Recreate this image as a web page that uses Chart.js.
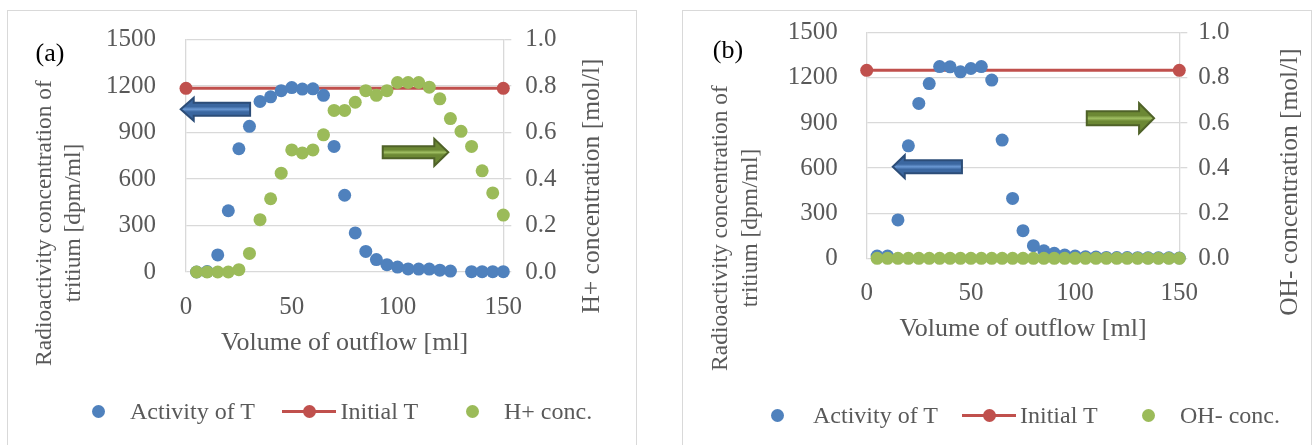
<!DOCTYPE html>
<html>
<head>
<meta charset="utf-8">
<script src="https://cdn.jsdelivr.net/npm/chart.js@4.4.1/dist/chart.umd.min.js"></script>
<style>
  body { margin: 0; width: 1314px; height: 445px; overflow: hidden; position: relative; background: #fff; font-family: "Liberation Serif", "Times New Roman", serif; }
  .panel { position: absolute; top: 10px; height: 445px; border: 1px solid #d9d9d9; box-sizing: border-box; background: #fff; }
  #panelA { left: 7px; width: 630px; }
  #panelB { left: 682px; width: 630px; }
  .panel canvas { position: absolute; left: 0; top: 0; }
  .legend { position: absolute; left: 0; top: 0; width: 100%; height: 100%; pointer-events: none; color: #595959; font-size: 24px; }
  .legend span { position: absolute; white-space: nowrap; line-height: 28px; }
  .dot { width: 13px; height: 13px; border-radius: 50%; }
  .bar { height: 3px; }
</style>
</head>
<body>
<div class="panel" id="panelA"><canvas id="chartA" width="628" height="434"></canvas><div class="legend" id="legendA"></div></div>
<div class="panel" id="panelB"><canvas id="chartB" width="628" height="434"></canvas><div class="legend" id="legendB"></div></div>
<script>
// volume of outflow [ml] for each fraction
const volume = [5, 10, 15, 20, 25, 30, 35, 40, 45, 50, 55, 60, 65, 70, 75, 80, 85, 90, 95, 100, 105, 110, 115, 120, 125, 130, 135, 140, 145, 150];

// (a) acid side
const activityA = [0, 3, 110, 395, 795, 940, 1100, 1130, 1170, 1190, 1180, 1182, 1140, 810, 495, 252, 133, 80, 47, 32, 20, 19, 19, 12, 6, null, 2, 2, 2, 2];
const hConcA = [0, 0, 0, 0, 0.01, 0.08, 0.225, 0.315, 0.425, 0.525, 0.512, 0.525, 0.59, 0.695, 0.695, 0.73, 0.78, 0.76, 0.78, 0.815, 0.815, 0.815, 0.795, 0.745, 0.66, 0.605, 0.54, 0.435, 0.34, 0.245];

// (b) alkaline side
const activityB = [15, 15, 255, 748, 1030, 1162, 1275, 1273, 1240, 1262, 1275, 1185, 786, 398, 184, 84, 50, 33, 22, 15, 10, 8, 6, 5, 5, 4, 3, 3, 3, 2];
const ohConcB = [0, 0, 0, 0, 0, 0, 0, 0, 0, 0, 0, 0, 0, 0, 0, 0, 0, 0, 0, 0, 0, 0, 0, 0, 0, 0, 0, 0, 0, 0];

// initial tritium activity, drawn across the whole range
const initialX = [0, 150];
const initialA = [1185, 1185];
const initialB = [1250, 1250];

const BLUE = '#4f81bd';
const RED = '#c0504d';
const GREEN = '#9bbb59';
const TEXT = '#595959';
const GRID = '#d9d9d9';
const FONT = '"Liberation Serif", "Times New Roman", serif';

const W = 628, H = 434;

const pts = (xs, ys) => xs.map((x, i) => ({ x: x, y: ys[i] }));

// block arrows pointing at the axis a series belongs to
const blockArrows = {
    id: 'blockArrows',
    afterDatasetsDraw(chart, args, opts) {
        const ctx = chart.ctx;
        const xs = chart.scales.x, ys = chart.scales.y;
        (opts.items || []).forEach(a => {
            const x0 = xs.getPixelForValue(a.tail[0]);
            const x1 = xs.getPixelForValue(a.tip[0]);
            const yc = ys.getPixelForValue(a.tail[1]);
            const dir = Math.sign(x1 - x0);
            const hb = a.body / 2, hh = a.head / 2;
            const xn = x1 - dir * a.headLen;
            ctx.save();
            ctx.beginPath();
            ctx.moveTo(x0, yc - hb);
            ctx.lineTo(xn, yc - hb);
            ctx.lineTo(xn, yc - hh);
            ctx.lineTo(x1, yc);
            ctx.lineTo(xn, yc + hh);
            ctx.lineTo(xn, yc + hb);
            ctx.lineTo(x0, yc + hb);
            ctx.closePath();
            const g = ctx.createLinearGradient(0, yc - hb, 0, yc + hb);
            g.addColorStop(0, a.dark);
            g.addColorStop(0.3, a.dark);
            g.addColorStop(0.5, a.light);
            g.addColorStop(0.7, a.dark);
            g.addColorStop(1, a.dark);
            ctx.fillStyle = g;
            ctx.fill();
            ctx.lineWidth = 2;
            ctx.lineJoin = 'miter';
            ctx.strokeStyle = a.edge;
            ctx.stroke();
            ctx.restore();
        });
    }
};

// rotated axis titles + panel label, placed like the spreadsheet original
const sideText = {
    id: 'sideText',
    afterDraw(chart, args, opts) {
        const ctx = chart.ctx;
        (opts.items || []).forEach(t => {
            ctx.save();
            ctx.translate(t.x, t.y);
            ctx.rotate(t.rot || 0);
            ctx.font = t.size + 'px ' + FONT;
            ctx.fillStyle = t.color || TEXT;
            ctx.textAlign = 'center';
            ctx.textBaseline = 'middle';
            ctx.fillText(t.text, 0, 0);
            ctx.restore();
        });
    }
};

function makeChart(id, cfg) {
    const tickFont = { family: FONT, size: 25 };
    return new Chart(document.getElementById(id), {
        type: 'scatter',
        data: {
            datasets: [
                {
                    label: cfg.concLabel,
                    data: pts(volume, cfg.conc),
                    yAxisID: 'y1',
                    backgroundColor: GREEN,
                    pointRadius: 6.5,
                    pointBorderWidth: 0,
                    clip: false,
                    order: 1
                },
                {
                    label: 'Activity of T',
                    data: pts(volume, cfg.activity),
                    yAxisID: 'y',
                    backgroundColor: BLUE,
                    pointRadius: 6.5,
                    pointBorderWidth: 0,
                    clip: false,
                    order: 2
                },
                {
                    label: 'Initial T',
                    data: pts(initialX, cfg.initial),
                    yAxisID: 'y',
                    showLine: true,
                    borderColor: RED,
                    borderWidth: 3,
                    backgroundColor: RED,
                    pointBackgroundColor: RED,
                    pointRadius: 6.5,
                    pointBorderWidth: 0,
                    clip: false,
                    order: 3
                }
            ]
        },
        options: {
            responsive: false,
            animation: false,
            events: [],
            layout: { padding: { top: cfg.plotTop, left: 0, right: 0, bottom: 0 } },
            plugins: {
                legend: { display: false },
                tooltip: { enabled: false },
                blockArrows: { items: cfg.arrows },
                sideText: { items: cfg.texts }
            },
            scales: {
                x: {
                    type: 'linear',
                    min: 0,
                    max: 150,
                    ticks: { stepSize: 50, padding: cfg.xPad, color: TEXT, font: tickFont, maxRotation: 0 },
                    grid: { display: false, drawTicks: false },
                    border: { display: false },
                    title: {
                        display: true,
                        text: 'Volume of outflow [ml]',
                        color: TEXT,
                        font: { family: FONT, size: 26 },
                        padding: { top: 0, bottom: cfg.xTitlePad }
                    },
                    afterFit: s => { s.height = H - cfg.plotBottom; }
                },
                y: {
                    position: 'left',
                    min: 0,
                    max: 1500,
                    // label gap comes from an invisible tick, tick padding would also pad the plot top
                    ticks: { stepSize: 300, padding: 0, color: TEXT, font: tickFont, callback: v => String(v) },
                    grid: { color: GRID, lineWidth: 1.3, drawTicks: true, tickLength: cfg.leftGap, tickColor: 'rgba(0,0,0,0)' },
                    border: { display: true, color: GRID, width: 1.3 },
                    afterFit: s => { s.width = cfg.plotLeft; }
                },
                y1: {
                    position: 'right',
                    min: 0,
                    max: 1,
                    ticks: { stepSize: 0.2, padding: 0, color: TEXT, font: tickFont, callback: v => v.toFixed(1) },
                    // only the first 7px of each tick is visible, the rest is spacing
                    grid: { drawOnChartArea: false, drawTicks: true, tickLength: cfg.rightGap, tickBorderDash: [7, 200], color: GRID, lineWidth: 1.3 },
                    border: { display: true, color: GRID, width: 1.3 },
                    afterFit: s => { s.width = W - cfg.plotRight; }
                }
            }
        },
        plugins: [blockArrows, sideText]
    });
}

const blueArrow = { dark: '#3b67a0', light: '#6a98d3', edge: '#2c4d78' };
const greenArrow = { dark: '#6c8834', light: '#a0bf62', edge: '#4f6228' };

makeChart('chartA', {
    activity: activityA,
    conc: hConcA,
    concLabel: 'H+ conc.',
    initial: initialA,
    plotLeft: 178, plotRight: 495.3, plotTop: 28.5, plotBottom: 261,
    leftGap: 30, rightGap: 22, xPad: 20, xTitlePad: 86,
    arrows: [
        Object.assign({ tail: [30.3, 1050], tip: [-2.5, 1050], body: 13, head: 23, headLen: 13 }, blueArrow),
        Object.assign({ tail: [93, 772], tip: [124, 772], body: 12, head: 27, headLen: 14 }, greenArrow)
    ],
    texts: [
        { text: '(a)', x: 42, y: 43, size: 26, color: '#000' },
        { text: 'Radioactivity concentration of', x: 37, y: 212, size: 23.5, rot: -Math.PI / 2 },
        { text: 'tritium [dpm/ml]', x: 66, y: 212, size: 23.5, rot: -Math.PI / 2 },
        { text: 'H+ concentration [mol/l]', x: 584, y: 175, size: 25.5, rot: -Math.PI / 2 }
    ]
});

makeChart('chartB', {
    activity: activityB,
    conc: ohConcB,
    concLabel: 'OH- conc.',
    initial: initialB,
    plotLeft: 183.7, plotRight: 496.3, plotTop: 21.7, plotBottom: 247.3,
    leftGap: 29, rightGap: 19, xPad: 20, xTitlePad: 100,
    arrows: [
        Object.assign({ tail: [45.7, 609], tip: [12.5, 609], body: 13, head: 23, headLen: 12 }, blueArrow),
        Object.assign({ tail: [105.6, 931], tip: [137.9, 931], body: 14, head: 30, headLen: 15 }, greenArrow)
    ],
    texts: [
        { text: '(b)', x: 45, y: 40, size: 26, color: '#000' },
        { text: 'Radioactivity concentration of', x: 38, y: 217, size: 23.5, rot: -Math.PI / 2 },
        { text: 'tritium [dpm/ml]', x: 68, y: 217, size: 23.5, rot: -Math.PI / 2 },
        { text: 'OH- concentration [mol/l]', x: 607, y: 171, size: 25.5, rot: -Math.PI / 2 }
    ]
});

// HTML legends (same layout as the source figure)
function buildLegend(id, items, yMid) {
    const box = document.getElementById(id);
    items.forEach(it => {
        const el = document.createElement('span');
        if (it.kind === 'dot') {
            el.className = 'dot';
            el.style.background = it.color;
            el.style.left = (it.x - 6.5) + 'px';
            el.style.top = (yMid - 6.5) + 'px';
        } else if (it.kind === 'bar') {
            el.className = 'bar';
            el.style.background = it.color;
            el.style.left = it.x + 'px';
            el.style.width = it.w + 'px';
            el.style.top = (yMid - 1.5) + 'px';
        } else {
            el.textContent = it.text;
            el.style.left = it.x + 'px';
            el.style.top = (yMid - 14) + 'px';
        }
        box.appendChild(el);
    });
}

buildLegend('legendA', [
    { kind: 'dot', color: BLUE, x: 90 },
    { kind: 'text', text: 'Activity of T', x: 122 },
    { kind: 'bar', color: RED, x: 274, w: 54 },
    { kind: 'dot', color: RED, x: 301 },
    { kind: 'text', text: 'Initial T', x: 332.5 },
    { kind: 'dot', color: GREEN, x: 464 },
    { kind: 'text', text: 'H+ conc.', x: 496 }
], 400);

buildLegend('legendB', [
    { kind: 'dot', color: BLUE, x: 94 },
    { kind: 'text', text: 'Activity of T', x: 130 },
    { kind: 'bar', color: RED, x: 279, w: 54 },
    { kind: 'dot', color: RED, x: 306 },
    { kind: 'text', text: 'Initial T', x: 337 },
    { kind: 'dot', color: GREEN, x: 465 },
    { kind: 'text', text: 'OH- conc.', x: 497 }
], 404);
</script>
</body>
</html>
